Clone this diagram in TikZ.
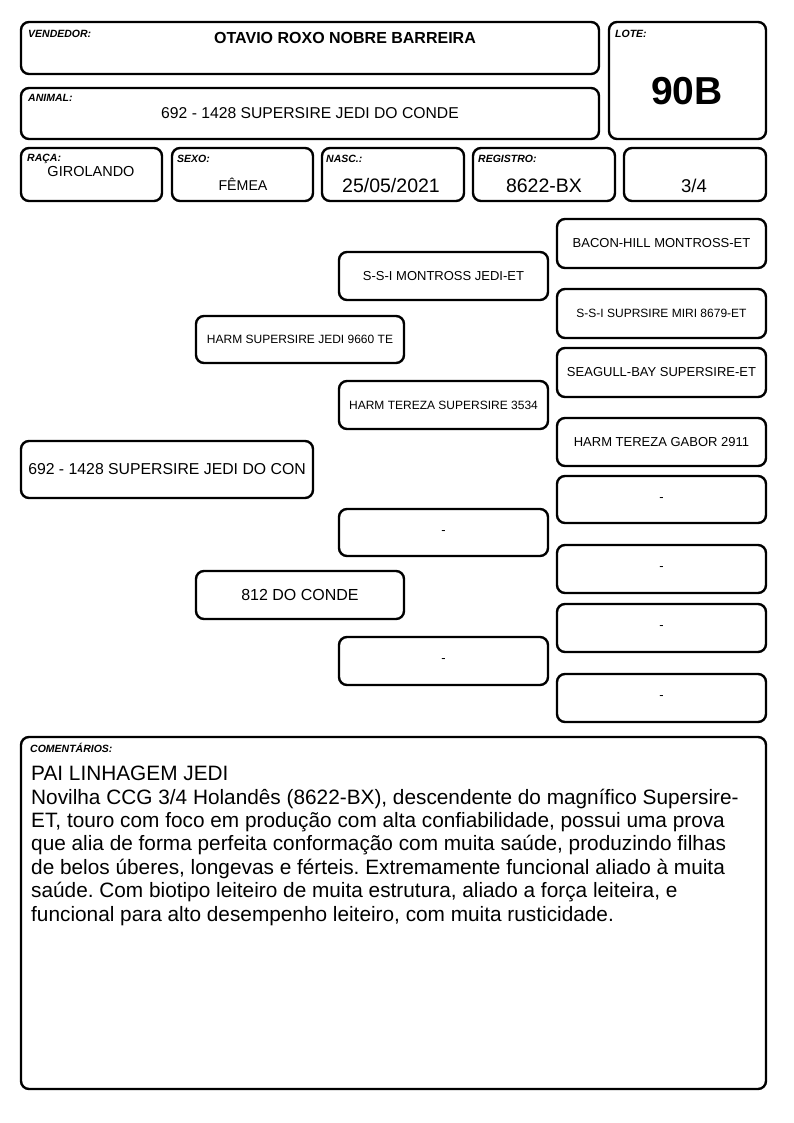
\documentclass[tikz,border=0pt]{standalone}
\usepackage{fontspec}
\setmainfont{Liberation Sans}
\usetikzlibrary{positioning}

\newcommand{\fsz}[1]{\fontsize{#1}{#1}\selectfont}

\begin{document}
\begin{tikzpicture}[x=1pt, y=-1pt,
  box/.style={draw, line width=2.4pt, rounded corners=8pt, inner sep=0pt},
  lbl/.style={font=\fsz{10.5}\bfseries\itshape, anchor=north west, inner sep=0pt},
  val/.style={inner sep=0pt},
  ped/.style={box, minimum width=209pt, minimum height=48pt, font=\fsz{13}}]
  \useasboundingbox (0,0) rectangle (794,1123);

  % cabecalho: vendedor, animal e lote
  \node[box, minimum width=578pt, minimum height=52pt] (vend) at (310,48) {};
  \node[lbl] (vendlbl) at (28,30) {VENDEDOR:};
  \node[val, font=\fsz{16}\bfseries] (vendname) at (345,38) {OTAVIO ROXO NOBRE BARREIRA};

  \node[box, minimum width=578pt, minimum height=51pt] (animal) at (310,113.5) {};
  \node[lbl] (animallbl) at (28,94) {ANIMAL:};
  \node[val, font=\fsz{15.7}] (animalname) at (310,113) {692 - 1428 SUPERSIRE JEDI DO CONDE};

  \node[box, minimum width=157pt, minimum height=117pt] (lote) at (687.5,80.5) {};
  \node[lbl] (lotelbl) at (615,30) {LOTE:};
  \node[val, font=\fsz{39}\bfseries] (loteval) at (687,91) {90B};

  % linha de dados do animal
  \node[box, minimum width=141pt, minimum height=53pt] (raca) at (91.5,174.5) {};
  \node[lbl] (racalbl) at (27,154) {RAÇA:};
  \node[val, font=\fsz{14.5}] (racaval) at (91,172) {GIROLANDO};

  \node[box, minimum width=141pt, minimum height=53pt] (sexo) at (242.5,174.5) {};
  \node[lbl] (sexolbl) at (177,155) {SEXO:};
  \node[val, font=\fsz{14.2}] (sexoval) at (243,184) {FÊMEA};

  \node[box, minimum width=142pt, minimum height=53pt] (nasc) at (393,174.5) {};
  \node[lbl] (nasclbl) at (326,155) {NASC.:};
  \node[val, font=\fsz{19.5}] (nascval) at (391,186) {25/05/2021};

  \node[box, minimum width=142pt, minimum height=53pt] (reg) at (544,174.5) {};
  \node[lbl] (reglbl) at (478,155) {REGISTRO:};
  \node[val, font=\fsz{19.5}] (regval) at (544,186) {8622-BX};

  \node[box, minimum width=142pt, minimum height=53pt] (grau) at (695,174.5) {};
  \node[val, font=\fsz{18.5}] (grauval) at (694,186) {3/4};

  % genealogia: bisavos (coluna da direita)
  \node[ped, minimum height=49pt] (bis1) at (661.5,243.5) {BACON-HILL MONTROSS-ET};
  \node[ped, minimum height=49pt, font=\fsz{12}] (bis2) at (661.5,313.5) {S-S-I SUPRSIRE MIRI 8679-ET};
  \node[ped, minimum height=49pt] (bis3) at (661.5,372.5) {SEAGULL-BAY SUPERSIRE-ET};
  \node[ped] (bis4) at (661.5,442) {HARM TEREZA GABOR 2911};
  \node[ped, minimum height=47pt] (bis5) at (661.5,499.5) {-};
  \node[ped] (bis6) at (661.5,569) {-};
  \node[ped] (bis7) at (661.5,628) {-};
  \node[ped] (bis8) at (661.5,698) {-};

  % avos
  \node[ped] (avo1) at (443.5,276) {S-S-I MONTROSS JEDI-ET};
  \node[ped, font=\fsz{12}] (avo2) at (443.5,405) {HARM TEREZA SUPERSIRE 3534};
  \node[ped, minimum height=47pt] (avo3) at (443.5,532.5) {-};
  \node[ped] (avo4) at (443.5,661) {-};

  % pais
  \node[ped, minimum width=208pt, minimum height=47pt, font=\fsz{12}] (pai) at (300,339.5) {HARM SUPERSIRE JEDI 9660 TE};
  \node[ped, minimum width=208pt, font=\fsz{16}] (mae) at (300,595) {812 DO CONDE};

  % animal
  \node[ped, minimum width=292pt, minimum height=57pt, font=\fsz{15.8}] (filho) at (167,469.5) {692 - 1428 SUPERSIRE JEDI DO CON};

  % comentarios
  \node[box, minimum width=745pt, minimum height=352pt] (coment) at (393.5,913) {};
  \node[lbl] (comentlbl) at (30,743) {COMENTÁRIOS:};
  \node[val, anchor=north west, align=left, font=\fontsize{20.8}{23.4}\selectfont\frenchspacing] (comenttxt) at (31,766)
    {PAI LINHAGEM JEDI\\
     Novilha CCG 3/4 Holandês (8622-BX), descendente do magnífico Supersire-\\
     ET, touro com foco em produção com alta confiabilidade, possui uma prova\\
     que alia de forma perfeita conformação com muita saúde, produzindo filhas\\
     de belos úberes, longevas e férteis. Extremamente funcional aliado à muita\\
     saúde. Com biotipo leiteiro de muita estrutura, aliado a força leiteira, e\\
     funcional para alto desempenho leiteiro, com muita rusticidade.};
\end{tikzpicture}
\end{document}
